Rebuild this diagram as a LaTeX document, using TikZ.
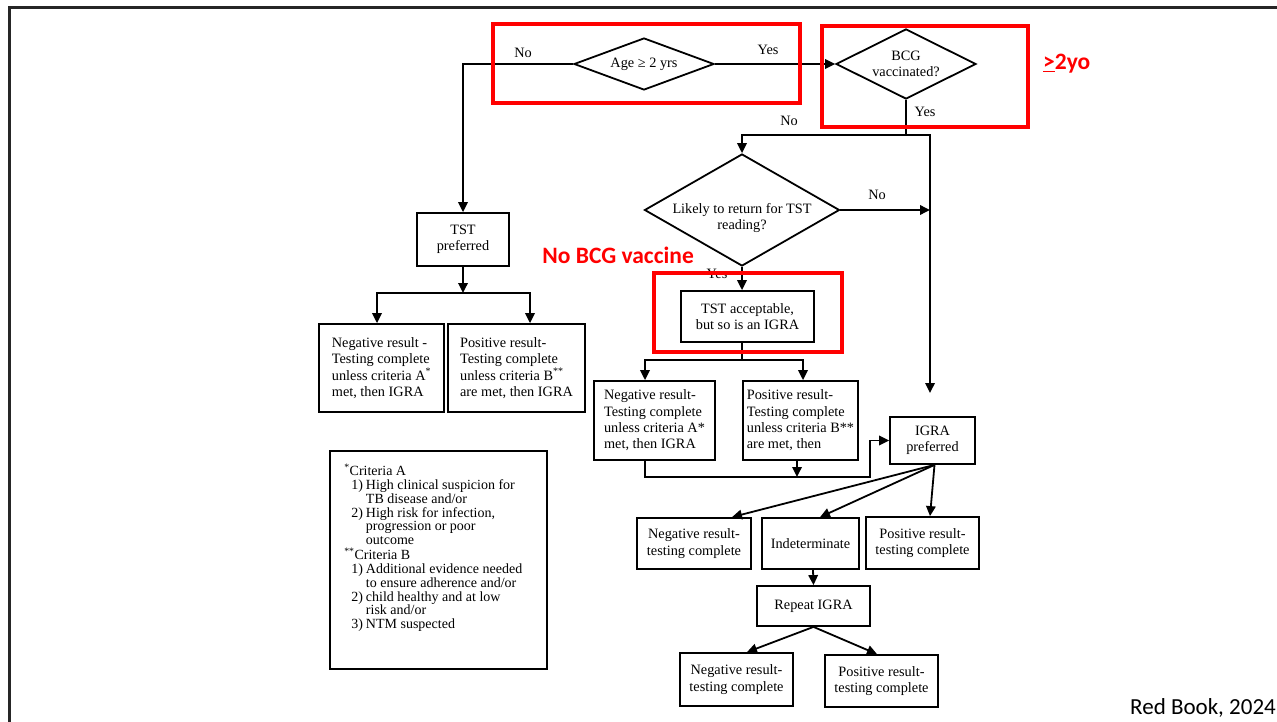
\documentclass[tikz,border=0pt]{standalone}
\usepackage{fontspec}
\setmainfont{Liberation Serif}
\newfontfamily\calibri{Carlito}
\usetikzlibrary{shapes.geometric,arrows.meta}
\begin{document}
\begin{tikzpicture}[x=1pt,y=-1pt,
  every node/.style={font=\fontsize{14.3}{16.4}\selectfont},
  flow/.style={line width=1.8pt, black},
  arr/.style={flow, -{Triangle[length=10pt,width=9.5pt]}},
  decision/.style={draw, line width=1.8pt, diamond, inner sep=0pt},
  box/.style={draw, line width=1.8pt, rectangle, inner sep=0pt, align=center},
  lbox/.style={box, align=left},
  lbl/.style={inner sep=0pt},
  redframe/.style={draw=red, line width=3.6pt},
  redtext/.style={text=red, font=\calibri\bfseries\fontsize{23.5}{26}\selectfont, inner sep=0pt},
]
\useasboundingbox (0,0) rectangle (1277,722);

% slide frame
\draw[line width=3pt, black!85] (9,723) -- (9,8) -- (1278,8);

% decisions
\node[decision, minimum width=140pt, minimum height=52pt] (age) at (644,64) {};
\node (agetxt) at (age) {Age ≥ 2 yrs};
\node[decision, minimum width=140pt, minimum height=70pt] (bcg) at (906,64) {};
\node[align=center] (bcgtxt) at (906,64) {BCG\\vaccinated?};
\node[decision, minimum width=195pt, minimum height=112pt] (likely) at (742,210) {};
\node[align=center] (likelytxt) at (742,218) {Likely to return for TST\\reading?};

% boxes
\node[box, minimum width=92pt, minimum height=53pt] (tstpref) at (463,239.5) {TST\\preferred};
\node[lbox, minimum width=125pt, minimum height=88pt] (negA) at (381.5,368)
  {Negative result -\\Testing complete\\unless criteria A\textsuperscript{*}\\met, then IGRA};
\node[lbox, minimum width=137pt, minimum height=88pt] (posB) at (516.5,368)
  {Positive result-\\Testing complete\\unless criteria B\textsuperscript{**}\\are met, then IGRA};
\node[box, minimum width=133pt, minimum height=51pt] (tstacc) at (747.5,316.5) {TST acceptable,\\but so is an IGRA};
\node[lbox, minimum width=121pt, minimum height=79pt] (negA2) at (654.5,420.5)
  {Negative result-\\Testing complete\\unless criteria A*\\met, then IGRA};
\node[lbox, minimum width=115pt, minimum height=79pt] (posB2) at (800.5,420.5)
  {Positive result-\\Testing complete\\unless criteria B**\\are met, then};
\node[box, minimum width=85pt, minimum height=47pt] (igra) at (932.5,440.5) {IGRA\\preferred};
\node[box, minimum width=114pt, minimum height=51pt] (neg3) at (694,543.5) {Negative result-\\testing complete};
\node[box, minimum width=97pt, minimum height=51pt] (indet) at (810.5,543.5) {Indeterminate};
\node[box, minimum width=113pt, minimum height=52pt] (pos3) at (922.5,543) {Positive result-\\testing complete};
\node[box, minimum width=113pt, minimum height=40pt] (repeat) at (813.5,606) {Repeat IGRA};
\node[box, minimum width=113pt, minimum height=53pt] (neg4) at (736.5,679.5) {Negative result-\\testing complete};
\node[box, minimum width=113pt, minimum height=52pt] (pos4) at (881.5,681) {Positive result-\\testing complete};

% criteria legend
\node[box, minimum width=217pt, minimum height=218pt] (crit) at (438.5,560) {};
\node[anchor=north west, inner sep=0pt, font=\fontsize{14}{13.4}\selectfont]
  (crittext) at ([xshift=15pt,yshift=-14pt]crit.north west) {%
  \begin{tabular}{@{\hspace{7pt}}l@{\hspace{3pt}}l@{}}
  \multicolumn{2}{@{}l@{}}{\textsuperscript{*}Criteria A}\\
  1) & High clinical suspicion for\\
     & TB disease and/or\\
  2) & High risk for infection,\\
     & progression or poor\\
     & outcome\\
  \multicolumn{2}{@{}l@{}}{\textsuperscript{**}Criteria B}\\
  1) & Additional evidence needed\\
     & to ensure adherence and/or\\
  2) & child healthy and at low\\
     & risk and/or\\
  3) & NTM suspected
  \end{tabular}};

% junction points
\coordinate (split) at (906,135);
\coordinate (igrain) at (930,393);
\coordinate (prefsplit) at (463,293);
\coordinate (accsplit) at (742,360);
\coordinate (merge) at (870,477);

% connectors
\draw[arr] (age.west) -| (tstpref.north);
\draw[arr] (age.east) -- (bcg.west);
\draw[flow] (bcg.south) -- (split);
\draw[arr] (split) -| (likely.north);
\draw[arr] (split) -| (igrain);
\draw[arr] (likely.east) -- (likely.east -| igrain);
\draw[arr] (likely.south) -- (likely.south |- tstacc.north);

\draw[arr] (tstpref.south) -- (prefsplit);
\draw[arr] (prefsplit) -| ([xshift=-4.5pt]negA.north);
\draw[arr] (prefsplit) -| ([xshift=13.5pt]posB.north);

\draw[flow] (accsplit |- tstacc.south) -- (accsplit);
\draw[arr] (accsplit) -| ([xshift=-9.5pt]negA2.north);
\draw[arr] (accsplit) -| ([xshift=2.5pt]posB2.north);

\draw[arr] ([xshift=-9.5pt]negA2.south) |- (merge) |- (igra.west);
\draw[arr] ([xshift=-3.5pt]posB2.south) -- ([xshift=-3.5pt]posB2.south |- merge);

\draw[arr] ([xshift=2pt]igra.south) -- ([xshift=38pt]neg3.north);
\draw[arr] ([xshift=2pt]igra.south) -- ([xshift=9.5pt]indet.north);
\draw[arr] ([xshift=2pt]igra.south) -- ([xshift=7.5pt]pos3.north);
\draw[arr] ([xshift=2.5pt]indet.south) -- (repeat.north);
\draw[arr] (repeat.south) -- ([xshift=10.5pt]neg4.north);
\draw[arr] (repeat.south) -- ([xshift=-4.5pt]pos4.north);

% branch labels
\node[lbl] (lno1) at (523,53) {No};
\node[lbl] (lyes1) at (768,50) {Yes};
\node[lbl] (lyes2) at (925,112) {Yes};
\node[lbl] (lno2) at (789,121) {No};
\node[lbl] (lno3) at (877,195) {No};
\node[lbl] (lyes3) at (717,274) {Yes};

% highlight frames and notes
\draw[redframe] (493,24) rectangle (800,103);
\draw[redframe] (822,26) rectangle (1028,127);
\draw[redframe] (654,273) rectangle (842,352);
\node[redtext, anchor=west] (age2) at (1043,64) {\underline{>}2yo};
\node[redtext, anchor=east] (nobcg) at (694,255) {No BCG vaccine};
\node[anchor=east, inner sep=0pt, font=\calibri\fontsize{23}{26}\selectfont] (src) at (1276,708) {Red Book, 2024};
\end{tikzpicture}
\end{document}
